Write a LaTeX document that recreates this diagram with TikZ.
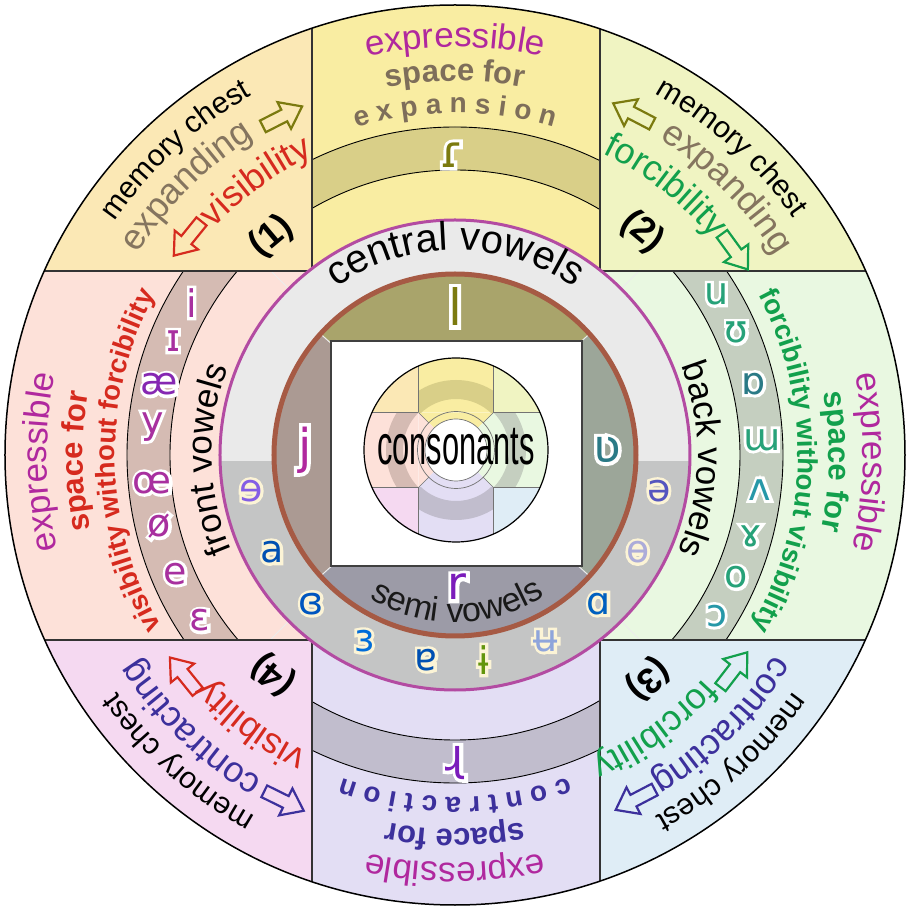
\documentclass[tikz,border=0pt]{standalone}
\usepackage{fontspec}
\setmainfont{Liberation Sans}
\newfontfamily\ipa{DejaVu Sans}
\newfontfamily\ipahalo[FakeBold=15]{DejaVu Sans}
\usetikzlibrary{decorations.text,calc}
\definecolor{q1c}{HTML}{FBE8B5}
\definecolor{topc}{HTML}{F9EDA2}
\definecolor{topb}{HTML}{D9CF88}
\definecolor{q2c}{HTML}{F0F4C2}
\definecolor{rightc}{HTML}{E9F8E1}
\definecolor{rightb}{HTML}{C5CFC0}
\definecolor{q3c}{HTML}{DFEDF6}
\definecolor{botc}{HTML}{E3DEF4}
\definecolor{botb}{HTML}{C1BDCD}
\definecolor{q4c}{HTML}{F5D9F1}
\definecolor{leftc}{HTML}{FDE1D9}
\definecolor{leftb}{HTML}{D5BBB3}
\definecolor{ringlight}{HTML}{EAEAEA}
\definecolor{ringdark}{HTML}{C4C5C5}
\definecolor{sectop}{HTML}{A9A46B}
\definecolor{secleft}{HTML}{AB9A93}
\definecolor{secbot}{HTML}{9C9BA7}
\definecolor{secright}{HTML}{9CA699}
\definecolor{magl}{HTML}{B34BA2}
\definecolor{brownl}{HTML}{A65A44}
\definecolor{cmag}{HTML}{B0289E}
\definecolor{cbrown}{HTML}{7E6E5A}
\definecolor{cexp}{HTML}{85755F}
\definecolor{cred}{HTML}{D62A1E}
\definecolor{cgreen}{HTML}{12A04C}
\definecolor{cblue}{HTML}{3C309C}
\definecolor{colive}{HTML}{7B7A0F}
\definecolor{cream}{HTML}{FCF4D6}
\definecolor{cpurp}{HTML}{A8309F}
\definecolor{cteal}{HTML}{27A279}
\definecolor{cteal2}{HTML}{2A7A86}
\definecolor{cteal3}{HTML}{2698A8}
\tikzset{
  bandline/.style={black, line width=0.9pt},
  crossline/.style={black!80, line width=1.1pt},
  faint/.style={white!85!gray, line width=1pt},
  minil/.style={black!55, line width=0.7pt},
}
% curved text: radius, centre angle, font, colour, text, direction (1 = clockwise)
\newcommand\arctxt[6]{%
  \pgfmathsetmacro\sa{#2+90*#6}\pgfmathsetmacro\ea{#2-90*#6}%
  \path[decorate,decoration={text along path,text align=center,text color=#4,text={|#3|#5}}]
    (\sa:#1) arc[start angle=\sa,end angle=\ea,radius=#1pt];}
% glyph with halo: position, size, colour, halo colour, text
\newcommand\glyph[5]{%
  \node[text=#4,font=\ipahalo\fontsize{#2}{#2}\selectfont,inner sep=0pt] at (#1) {#5};
  \node[text=#3,font=\ipa\fontsize{#2}{#2}\selectfont,inner sep=0pt] at (#1) {#5};}
% outlined block arrow: angle, radius, rotation, colour
\newcommand\barrow[4]{%
  \draw[#4,line width=2.2pt,line join=miter,shift={(#1:#2)},rotate=#3]
    (-22,6.5) -- (2,6.5) -- (2,15) -- (22,0) -- (2,-15) -- (2,-6.5) -- (-22,-6.5) -- cycle;}
\begin{document}
\begin{tikzpicture}[x=1pt,y=1pt]
\useasboundingbox (-455,-452) rectangle (453,455);
% ---------- outer regions
\begin{scope}
\clip (0,0) circle[radius=450pt];
\fill[q1c] (-460,184) rectangle (-143,460);
\fill[topc] (-143,184) rectangle (145,460);
\fill[q2c] (145,184) rectangle (460,460);
\fill[leftc] (-460,-185) rectangle (-143,184);
\fill[rightc] (145,-185) rectangle (460,184);
\fill[q4c] (-460,-460) rectangle (-143,-185);
\fill[botc] (-143,-460) rectangle (145,-185);
\fill[q3c] (145,-460) rectangle (460,-185);
\begin{scope}\clip (-143,184) rectangle (145,460);
 \fill[topb,even odd rule] (0,0) circle[radius=328pt] (0,0) circle[radius=285pt];
 \draw[bandline] (0,0) circle[radius=328pt] (0,0) circle[radius=285pt];
\end{scope}
\begin{scope}\clip (-143,-185) rectangle (145,-460);
 \fill[botb,even odd rule] (0,0) circle[radius=328pt] (0,0) circle[radius=285pt];
 \draw[bandline] (0,0) circle[radius=328pt] (0,0) circle[radius=285pt];
\end{scope}
\begin{scope}\clip (-460,-185) rectangle (-143,184);
 \fill[leftb,even odd rule] (0,0) circle[radius=328pt] (0,0) circle[radius=285pt];
 \draw[bandline] (0,0) circle[radius=328pt] (0,0) circle[radius=285pt];
\end{scope}
\begin{scope}\clip (145,-185) rectangle (460,184);
 \fill[rightb,even odd rule] (0,0) circle[radius=328pt] (0,0) circle[radius=285pt];
 \draw[bandline] (0,0) circle[radius=328pt] (0,0) circle[radius=285pt];
\end{scope}
\draw[faint] (45:236) -- (45:262) (135:236) -- (135:260) (225:236) -- (225:262) (315:236) -- (315:262);
\draw[crossline] (-143,184) -- (-143,460) (145,184) -- (145,460)
  (-143,-185) -- (-143,-460) (145,-185) -- (145,-460)
  (-143,184) -- (-460,184) (145,184) -- (460,184)
  (-143,-185) -- (-460,-185) (145,-185) -- (460,-185);
\end{scope}
% ---------- ring
\fill[ringlight] (0,0) circle[radius=235pt];
\begin{scope}\clip (-240,-7) rectangle (240,-240);
 \fill[ringdark] (0,0) circle[radius=235pt];
\end{scope}
% ---------- inner disk
\begin{scope}\clip (0,0) circle[radius=181pt];
\fill[sectop] (0,0) -- (42:260) -- (90:260) -- (138:260) -- cycle;
\fill[secleft] (0,0) -- (138:260) -- (180:260) -- (222:260) -- cycle;
\fill[secbot] (0,0) -- (222:260) -- (270:260) -- (318:260) -- cycle;
\fill[secright] (0,0) -- (318:260) -- (0:260) -- (42:260) -- cycle;
\draw[faint] (0,0) -- (42:260) (0,0) -- (138:260) (0,0) -- (222:260) (0,0) -- (318:260);
\end{scope}
\draw[magl,line width=3pt] (0,0) circle[radius=235pt];
\draw[brownl,line width=5pt] (0,0) circle[radius=181pt];
\draw[black!75,line width=1.3pt,fill=white] (-124,114) rectangle (127,-111);
% ---------- mini diagram
\begin{scope}[shift={(1,5)}]
\begin{scope}\clip (0,0) circle[radius=92pt];
 \fill[q1c] (-100,37.5) rectangle (-37.5,100);
 \fill[topc] (-37.5,37.5) rectangle (37.5,100);
 \fill[q2c] (37.5,37.5) rectangle (100,100);
 \fill[leftc] (-100,-37.5) rectangle (-37.5,37.5);
 \fill[rightc] (37.5,-37.5) rectangle (100,37.5);
 \fill[q4c] (-100,-100) rectangle (-37.5,-37.5);
 \fill[botc] (-37.5,-100) rectangle (37.5,-37.5);
 \fill[q3c] (37.5,-100) rectangle (100,-37.5);
 \fill[topc] (0,0) -- (-37.5,37.5) -- (37.5,37.5) -- cycle;
 \fill[leftc] (0,0) -- (-37.5,37.5) -- (-37.5,-37.5) -- cycle;
 \fill[botc] (0,0) -- (-37.5,-37.5) -- (37.5,-37.5) -- cycle;
 \fill[rightc] (0,0) -- (37.5,-37.5) -- (37.5,37.5) -- cycle;
 \begin{scope}\clip (-37.5,37.5) rectangle (37.5,100);
  \fill[topb,even odd rule] (0,0) circle[radius=70pt] (0,0) circle[radius=51pt];\end{scope}
 \begin{scope}\clip (-37.5,-37.5) rectangle (37.5,-100);
  \fill[botb,even odd rule] (0,0) circle[radius=70pt] (0,0) circle[radius=51pt];\end{scope}
 \begin{scope}\clip (-100,-37.5) rectangle (-37.5,37.5);
  \fill[leftb,even odd rule] (0,0) circle[radius=70pt] (0,0) circle[radius=53pt];\end{scope}
 \begin{scope}\clip (37.5,-37.5) rectangle (100,37.5);
  \fill[rightb,even odd rule] (0,0) circle[radius=70pt] (0,0) circle[radius=53pt];\end{scope}
 \draw[minil] (-37.5,37.5) -- (-37.5,100) (37.5,37.5) -- (37.5,100)
   (-37.5,-37.5) -- (-37.5,-100) (37.5,-37.5) -- (37.5,-100)
   (-37.5,37.5) -- (-100,37.5) (37.5,37.5) -- (100,37.5)
   (-37.5,-37.5) -- (-100,-37.5) (37.5,-37.5) -- (100,-37.5);
\end{scope}
\draw[minil] (45:38.5) -- (37.5,37.5) (135:38.5) -- (-37.5,37.5) (225:38.5) -- (-37.5,-37.5) (315:38.5) -- (37.5,-37.5);
\draw[minil] (0,0) circle[radius=38.5pt];
\draw[minil,fill=white] (0,0) circle[radius=31pt];
\draw[black,line width=1.2pt] (0,0) circle[radius=92pt];
\end{scope}
\node[xscale=0.55,font=\fontsize{56}{56}\selectfont,inner sep=0pt] (cons) at (1,8) {consonants};
\draw[black,line width=1.5pt] (0,0) circle[radius=450pt];
% ---------- curved texts: arms
\arctxt{408}{90}{\fontsize{35}{35}\selectfont}{cmag}{expressible}{1}
\arctxt{374}{90}{\bfseries\fontsize{31}{31}\selectfont}{cbrown}{space for}{1}
\arctxt{342}{90}{\bfseries\fontsize{28}{28}\selectfont}{cbrown}{e x p a n s i o n}{1}
\arctxt{408}{181}{\fontsize{35}{35}\selectfont}{cmag}{expressible}{1}
\arctxt{372}{181}{\bfseries\fontsize{31}{31}\selectfont}{cred}{space for}{1}
\arctxt{340}{181}{\bfseries\fontsize{27.5}{27.5}\selectfont}{cred}{visibility without forcibility}{1}
\arctxt{408}{-1}{\fontsize{35}{35}\selectfont}{cmag}{expressible}{1}
\arctxt{374}{-1}{\bfseries\fontsize{31}{31}\selectfont}{cgreen}{space for}{1}
\arctxt{343}{-1}{\bfseries\fontsize{27.5}{27.5}\selectfont}{cgreen}{forcibility without visibility}{1}
\arctxt{408}{270}{\fontsize{35}{35}\selectfont}{cmag}{expressible}{1}
\arctxt{374}{270}{\bfseries\fontsize{31}{31}\selectfont}{cblue}{space for}{1}
\arctxt{342}{270}{\bfseries\fontsize{28}{28}\selectfont}{cblue}{c o n t r a c t i o n}{1}
% ---------- curved texts: quadrants
\arctxt{413}{132.5}{\fontsize{30}{30}\selectfont}{black}{memory chest}{1}
\arctxt{376}{135}{\fontsize{36}{36}\selectfont}{cexp}{expanding}{1}
\arctxt{331}{126}{\fontsize{36}{36}\selectfont}{cred}{visibility}{1}
\arctxt{413}{48}{\fontsize{30}{30}\selectfont}{black}{memory chest}{1}
\arctxt{377}{44.5}{\fontsize{36}{36}\selectfont}{cexp}{expanding}{1}
\arctxt{336}{52}{\fontsize{36}{36}\selectfont}{cgreen}{forcibility}{1}
\arctxt{413}{312}{\fontsize{30}{30}\selectfont}{black}{memory chest}{1}
\arctxt{377}{314.6}{\fontsize{36}{36}\selectfont}{cblue}{contracting}{1}
\arctxt{334}{306}{\fontsize{36}{36}\selectfont}{cgreen}{forcibility}{1}
\arctxt{413}{228}{\fontsize{30}{30}\selectfont}{black}{memory chest}{1}
\arctxt{377}{226}{\fontsize{36}{36}\selectfont}{cblue}{contracting}{1}
\arctxt{332}{233}{\fontsize{36}{36}\selectfont}{cred}{visibility}{1}
% ---------- inner curved texts
\arctxt{205}{90}{\fontsize{40}{40}\selectfont}{black}{central vowels}{1}
\arctxt{167}{271}{\fontsize{34}{34}\selectfont}{black!90}{semi vowels}{-1}
\arctxt{243}{181}{\fontsize{35}{35}\selectfont}{black}{front vowels}{1}
\arctxt{243}{-1}{\fontsize{35}{35}\selectfont}{black}{back vowels}{1}
% ---------- arrows
\barrow{117}{380}{27}{colive}
\barrow{141}{344}{231}{cred}
\barrow{62.5}{385}{152.5}{colive}
\barrow{36}{346}{-54}{cgreen}
\barrow{322.4}{352}{52.4}{cgreen}
\barrow{297.6}{389}{207.6}{cblue}
\barrow{219}{349}{129}{cred}
\barrow{243.7}{386}{333.7}{cblue}
% ---------- numbers
\node[rotate=40,font=\bfseries\fontsize{36}{36}\selectfont] (n1) at (130:285) {(1)};
\node[rotate=-40,font=\bfseries\fontsize{36}{36}\selectfont] (n2) at (50:291) {(2)};
\node[rotate=220.7,font=\bfseries\fontsize{36}{36}\selectfont] (n3) at (310.7:296) {(3)};
\node[rotate=140.4,font=\bfseries\fontsize{36}{36}\selectfont] (n4) at (230.4:285) {(4)};
% ---------- glyphs: inner sectors and band ends
\glyph{0,148}{50}{colive}{white}{l}
\glyph{-150,5}{48}{cmag}{white}{j}
\glyph{152,5}{46}{cteal2}{white}{ʋ}
\glyph{2,-132}{46}{cmag!70!blue}{white}{r}
\glyph{-3,300}{44}{colive}{white}{ɾ}
\glyph{0,-308}{44}{cmag!70!blue}{white}{ɻ}
% ring vowels
\glyph{190:207}{38}{white!55!cmag!60!blue}{cream}{ɘ}
\glyph{208:207}{38}{blue!55!cyan!70!black}{cream}{a}
\glyph{226:207}{38}{blue!55!cyan!75!black}{cream}{ɞ}
\glyph{244:207}{38}{blue!50!cyan!85!black}{cream}{ɜ}
\glyph{262:207}{38}{blue!55!cyan!70!black}{cream}{ɐ}
\glyph{278:207}{38}{colive!80!green}{cream}{ɨ}
\glyph{296:207}{38}{cyan!40!blue!45!white}{cream}{ʉ}
\glyph{314:207}{38}{blue!50!cyan!75!black}{cream}{ɑ}
\glyph{332:207}{38}{blue!25!white!70!gray}{cream}{ɵ}
\glyph{350:207}{38}{blue!55!white!75!black}{cream}{ə}
% front vowels
\glyph{150:304}{38}{cpurp}{white}{i}
\glyph{158:304}{38}{cpurp}{white}{ɪ}
\glyph{166.6:304}{38}{cpurp!80!blue}{white}{æ}
\glyph{174.7:304}{38}{cpurp}{white}{y}
\glyph{185.3:304}{38}{cpurp}{white}{œ}
\glyph{193.6:304}{38}{cpurp}{white}{ø}
\glyph{203:304}{38}{cpurp}{white}{e}
\glyph{213:304}{38}{cpurp}{white}{ɛ}
% back vowels
\glyph{31.6:307}{38}{cteal}{white}{u}
\glyph{23.5:307}{38}{cteal}{white}{ʊ}
\glyph{13.4:307}{38}{cteal2}{white}{ɒ}
\glyph{2.8:307}{38}{cteal}{white}{ɯ}
\glyph{-6.5:307}{38}{cteal3}{white}{ʌ}
\glyph{-15.4:307}{38}{cteal}{white}{ɤ}
\glyph{-23.5:307}{38}{cteal}{white}{o}
\glyph{-31.6:307}{38}{cteal3}{white}{ɔ}
\end{tikzpicture}
\end{document}
